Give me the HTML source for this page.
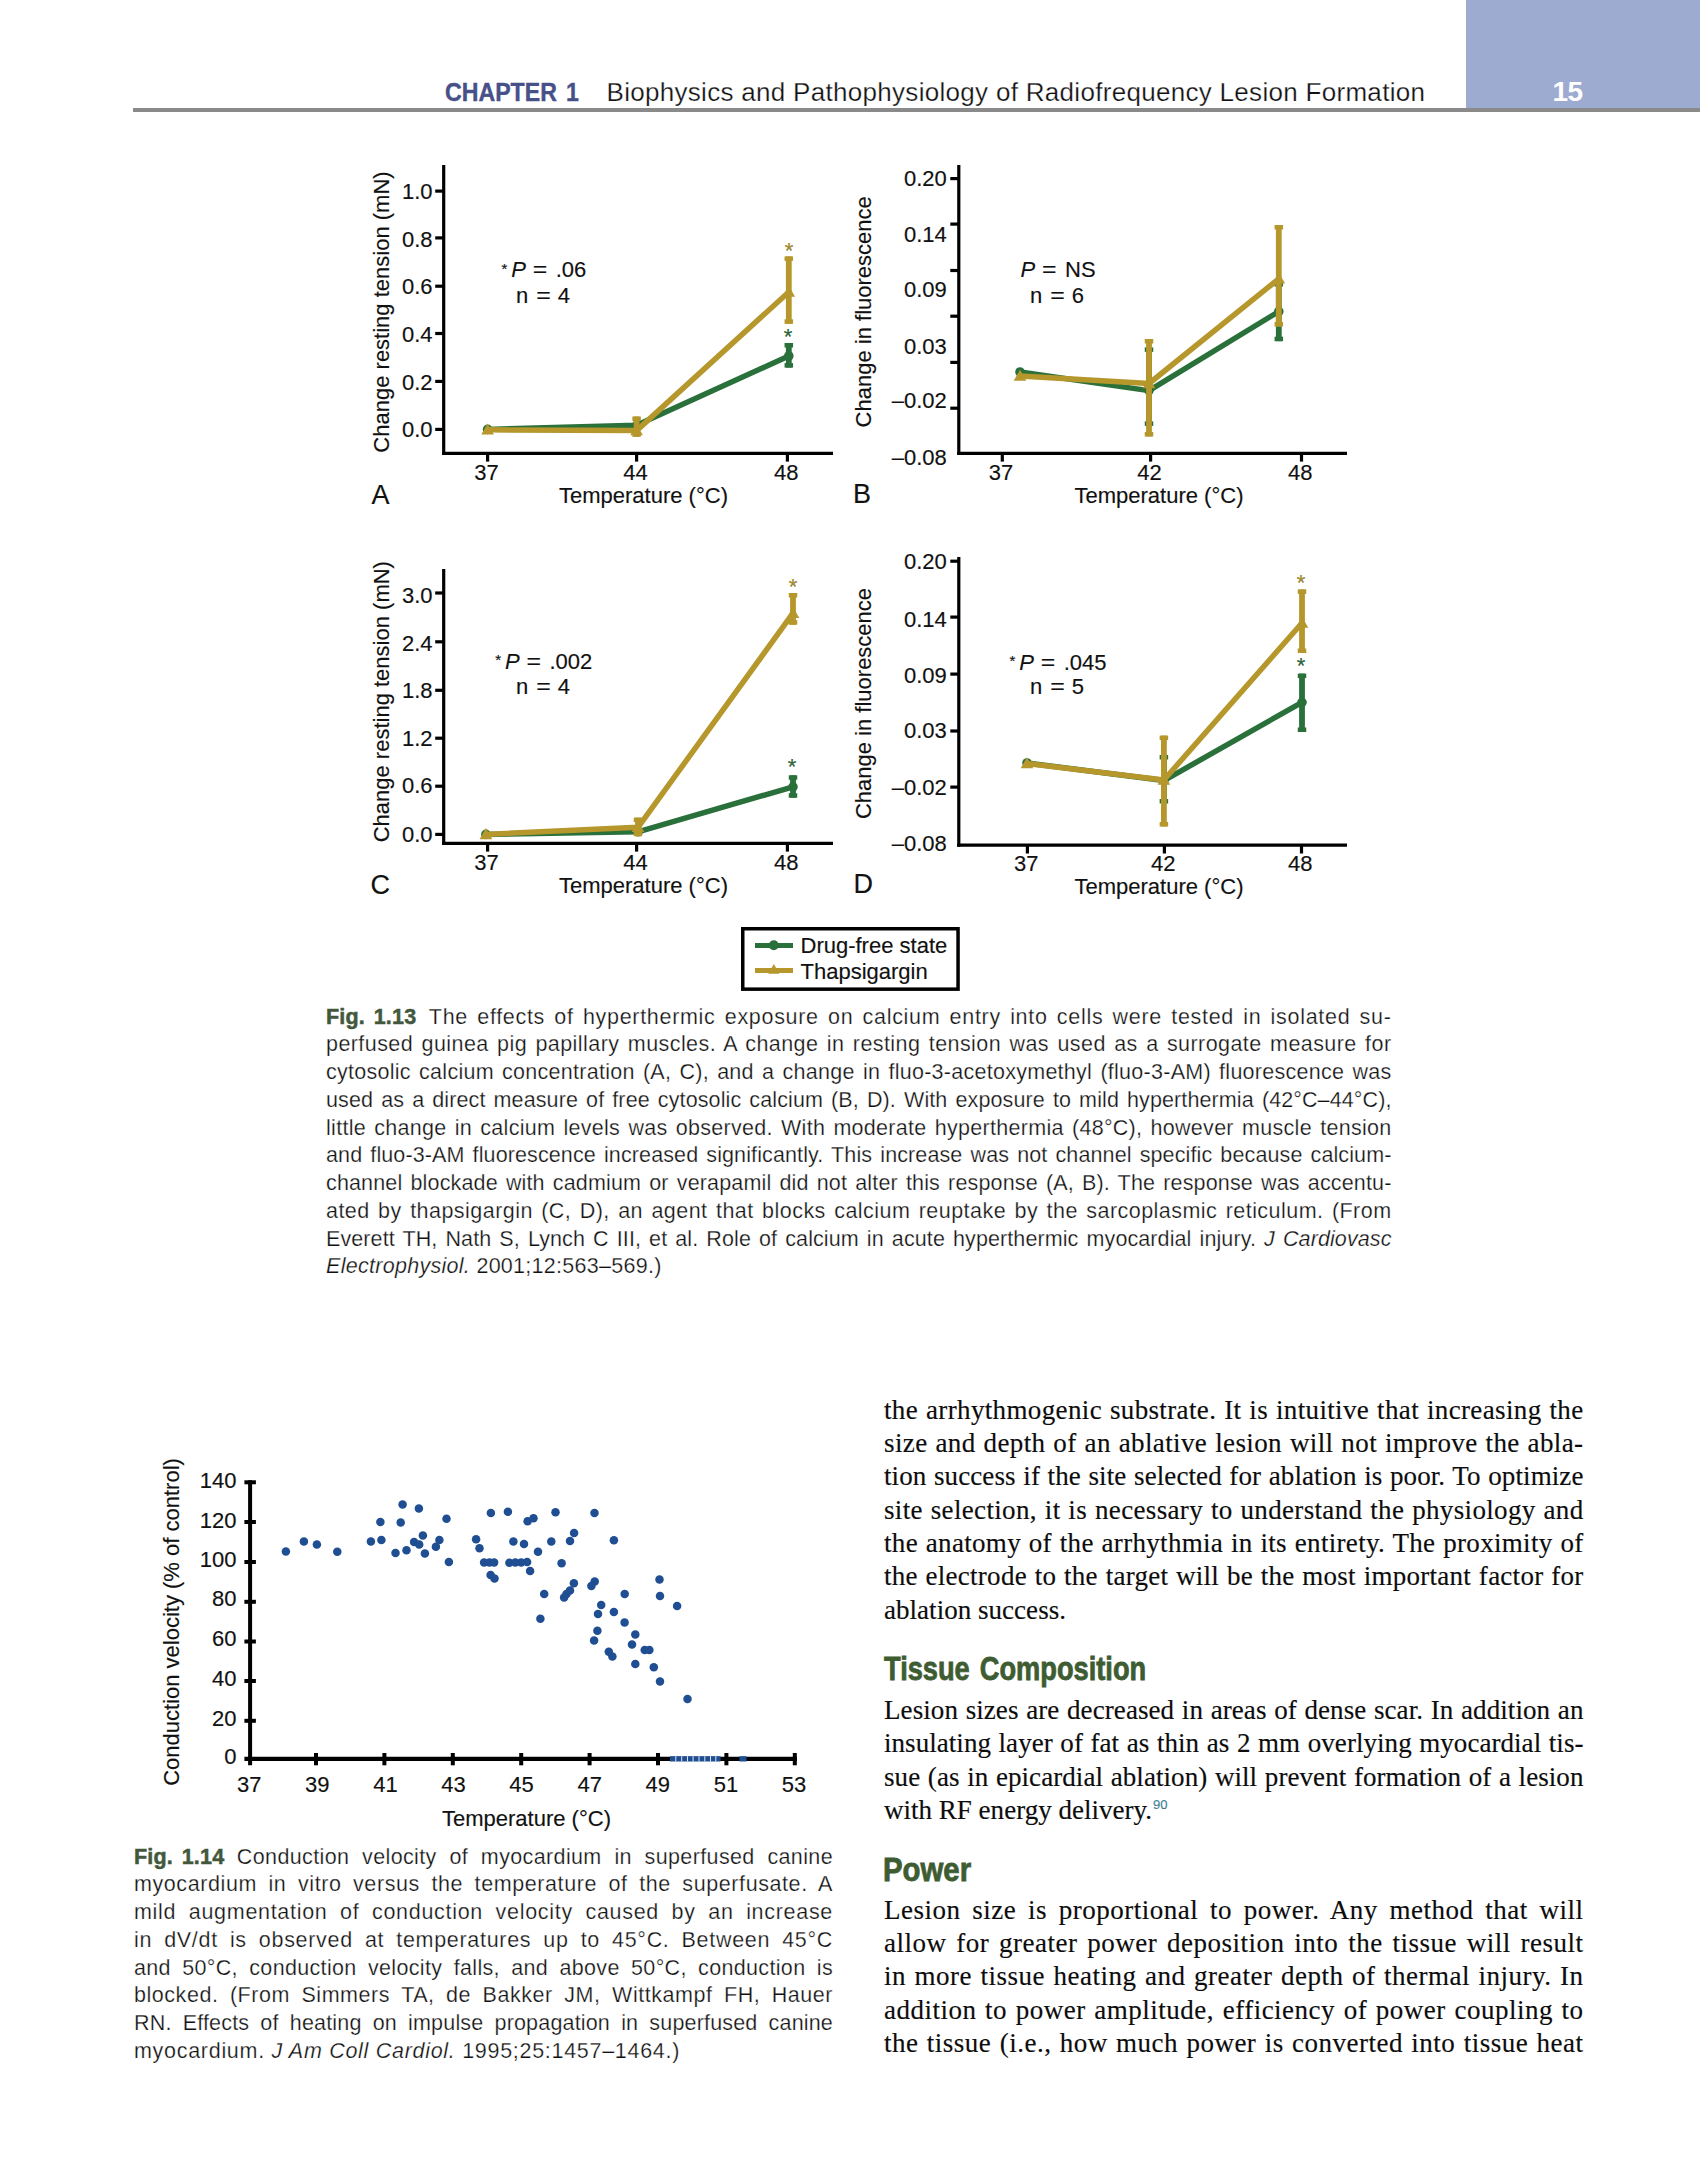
<!DOCTYPE html>
<html lang="en"><head><meta charset="utf-8"><title>Chapter 1 - Biophysics and Pathophysiology of Radiofrequency Lesion Formation</title>
<style>
*{margin:0;padding:0;box-sizing:border-box}
html,body{width:1700px;height:2175px;background:#fff;overflow:hidden}
body{position:relative;font-family:"Liberation Sans",sans-serif;color:#111}
.l{position:absolute;white-space:nowrap;}
.j{text-align:justify;text-align-last:justify;white-space:normal}
.cap{font-family:"Liberation Sans",sans-serif;font-size:21.5px;line-height:28px;letter-spacing:.6px;color:#111;-webkit-text-stroke:.25px #fff}
.cap b{color:#42583c;-webkit-text-stroke:.5px #42583c;display:inline-block;letter-spacing:.2px;word-spacing:2.5px}
.g{display:inline-block;width:12.5px}
.body{font-family:"Liberation Serif",serif;font-size:27px;line-height:34px;letter-spacing:.3px;color:#0c0c0c;-webkit-text-stroke:.15px #0c0c0c}
.h{font-family:"Liberation Sans",sans-serif;font-weight:bold;font-size:33px;line-height:40px;color:#3e5c32;-webkit-text-stroke:.8px #3e5c32;word-spacing:3px;transform-origin:0 0;transform:scaleX(.815)}
svg{position:absolute;left:0;top:0}
svg text{font-family:"Liberation Sans",sans-serif;font-size:22px;letter-spacing:0;fill:#111;stroke:#111;stroke-width:.15px}
sup.r{font-family:"Liberation Sans",sans-serif;font-size:13px;color:#4a9bb5;letter-spacing:0;vertical-align:baseline;position:relative;top:-10px;margin-left:1px}
</style></head>
<body>
<div style="position:absolute;left:1466px;top:0;width:234px;height:109px;background:#9eabd0"></div>
<div style="position:absolute;left:133px;top:108px;width:1567px;height:4px;background:#8a8a8a"></div>
<div class="l" style="left:445px;top:77.00px;font-size:26px;line-height:30px;font-weight:bold;color:#475089;-webkit-text-stroke:.4px #475089;word-spacing:3px;transform-origin:0 0;transform:scaleX(.89)">CHAPTER 1</div>
<div class="l" style="left:606.5px;top:77.00px;font-size:26px;line-height:30px;letter-spacing:.3px;color:#111;-webkit-text-stroke:.25px #fff">Biophysics and Pathophysiology of Radiofrequency Lesion Formation</div>
<div class="l" style="left:1552.5px;top:76.50px;font-size:28px;line-height:30px;font-weight:bold;color:#fff;letter-spacing:-.5px">15</div>
<div class="l j cap" style="left:326px;top:1003.00px;width:1065.5px;height:28px;letter-spacing:0.696px"><b>Fig. 1.13</b><span class="g"></span>The effects of hyperthermic exposure on calcium entry into cells were tested in isolated su-</div>
<div class="l j cap" style="left:326px;top:1030.00px;width:1065.5px;height:28px;letter-spacing:0.431px">perfused guinea pig papillary muscles. A change in resting tension was used as a surrogate measure for</div>
<div class="l j cap" style="left:326px;top:1058.00px;width:1065.5px;height:28px;letter-spacing:0.268px">cytosolic calcium concentration (A, C), and a change in fluo-3-acetoxymethyl (fluo-3-AM) fluorescence was</div>
<div class="l j cap" style="left:326px;top:1086.00px;width:1065.5px;height:28px;letter-spacing:0.107px">used as a direct measure of free cytosolic calcium (B, D). With exposure to mild hyperthermia (42°C–44°C),</div>
<div class="l j cap" style="left:326px;top:1114.00px;width:1065.5px;height:28px;letter-spacing:0.286px">little change in calcium levels was observed. With moderate hyperthermia (48°C), however muscle tension</div>
<div class="l j cap" style="left:326px;top:1141.00px;width:1065.5px;height:28px;letter-spacing:0.114px">and fluo-3-AM fluorescence increased significantly. This increase was not channel specific because calcium-</div>
<div class="l j cap" style="left:326px;top:1169.00px;width:1065.5px;height:28px;letter-spacing:0.151px">channel blockade with cadmium or verapamil did not alter this response (A, B). The response was accentu-</div>
<div class="l j cap" style="left:326px;top:1197.00px;width:1065.5px;height:28px;letter-spacing:0.459px">ated by thapsigargin (C, D), an agent that blocks calcium reuptake by the sarcoplasmic reticulum. (From</div>
<div class="l j cap" style="left:326px;top:1225.00px;width:1065.5px;height:28px;letter-spacing:0.098px">Everett TH, Nath S, Lynch C III, et al. Role of calcium in acute hyperthermic myocardial injury. <i>J Cardiovasc</i></div>
<div class="l cap" style="left:326px;top:1252.00px;letter-spacing:0.287px"><i>Electrophysiol.</i> 2001;12:563–569.)</div>
<div class="l j cap" style="left:134px;top:1843.00px;width:699px;height:28px;letter-spacing:0.371px"><b>Fig. 1.14</b><span class="g"></span>Conduction velocity of myocardium in superfused canine</div>
<div class="l j cap" style="left:134px;top:1870.00px;width:699px;height:28px;letter-spacing:0.584px">myocardium in vitro versus the temperature of the superfusate. A</div>
<div class="l j cap" style="left:134px;top:1898.00px;width:699px;height:28px;letter-spacing:0.700px">mild augmentation of conduction velocity caused by an increase</div>
<div class="l j cap" style="left:134px;top:1926.00px;width:699px;height:28px;letter-spacing:0.700px">in dV/dt is observed at temperatures up to 45°C. Between 45°C</div>
<div class="l j cap" style="left:134px;top:1954.00px;width:699px;height:28px;letter-spacing:0.340px">and 50°C, conduction velocity falls, and above 50°C, conduction is</div>
<div class="l j cap" style="left:134px;top:1981.00px;width:699px;height:28px;letter-spacing:0.539px">blocked. (From Simmers TA, de Bakker JM, Wittkampf FH, Hauer</div>
<div class="l j cap" style="left:134px;top:2009.00px;width:699px;height:28px;letter-spacing:0.172px">RN. Effects of heating on impulse propagation in superfused canine</div>
<div class="l cap" style="left:134px;top:2037.00px;letter-spacing:0.706px">myocardium. <i>J Am Coll Cardiol.</i> 1995;25:1457–1464.)</div>
<div class="l j body" style="left:884px;top:1393.00px;width:699.5px;height:34px;letter-spacing:0.362px">the arrhythmogenic substrate. It is intuitive that increasing the</div>
<div class="l j body" style="left:884px;top:1426.00px;width:699.5px;height:34px;letter-spacing:0.383px">size and depth of an ablative lesion will not improve the abla-</div>
<div class="l j body" style="left:884px;top:1459.00px;width:699.5px;height:34px;letter-spacing:0.093px">tion success if the site selected for ablation is poor. To optimize</div>
<div class="l j body" style="left:884px;top:1493.00px;width:699.5px;height:34px;letter-spacing:0.343px">site selection, it is necessary to understand the physiology and</div>
<div class="l j body" style="left:884px;top:1526.00px;width:699.5px;height:34px;letter-spacing:0.312px">the anatomy of the arrhythmia in its entirety. The proximity of</div>
<div class="l j body" style="left:884px;top:1559.00px;width:699.5px;height:34px;letter-spacing:0.264px">the electrode to the target will be the most important factor for</div>
<div class="l body" style="left:884px;top:1593.00px;letter-spacing:0.032px">ablation success.</div>
<div class="l j body" style="left:884px;top:1693.00px;width:699.5px;height:34px;letter-spacing:0.084px">Lesion sizes are decreased in areas of dense scar. In addition an</div>
<div class="l j body" style="left:884px;top:1726.00px;width:699.5px;height:34px;letter-spacing:0.048px">insulating layer of fat as thin as 2 mm overlying myocardial tis-</div>
<div class="l j body" style="left:884px;top:1760.00px;width:699.5px;height:34px;letter-spacing:0.071px">sue (as in epicardial ablation) will prevent formation of a lesion</div>
<div class="l body" style="left:884px;top:1793.00px;letter-spacing:0.012px">with RF energy delivery.<sup class="r">90</sup></div>
<div class="l j body" style="left:884px;top:1893.00px;width:699.5px;height:34px;letter-spacing:0.500px">Lesion size is proportional to power. Any method that will</div>
<div class="l j body" style="left:884px;top:1926.00px;width:699.5px;height:34px;letter-spacing:0.500px">allow for greater power deposition into the tissue will result</div>
<div class="l j body" style="left:884px;top:1959.00px;width:699.5px;height:34px;letter-spacing:0.500px">in more tissue heating and greater depth of thermal injury. In</div>
<div class="l j body" style="left:884px;top:1993.00px;width:699.5px;height:34px;letter-spacing:0.500px">addition to power amplitude, efficiency of power coupling to</div>
<div class="l j body" style="left:884px;top:2026.00px;width:699.5px;height:34px;letter-spacing:0.500px">the tissue (i.e., how much power is converted into tissue heat</div>
<div class="l h" style="left:884px;top:1648.50px;transform:scaleX(0.825)">Tissue Composition</div>
<div class="l h" style="left:883.0px;top:1849.50px;transform:scaleX(0.89)">Power</div>
<svg width="1700" height="2175" viewBox="0 0 1700 2175">
<line x1="443.7" y1="165" x2="443.7" y2="454.90000000000003" stroke="#000" stroke-width="3.2" stroke-linecap="butt"/>
<line x1="442.09999999999997" y1="453.3" x2="833" y2="453.3" stroke="#000" stroke-width="3.2" stroke-linecap="butt"/>
<line x1="435.2" y1="191.1" x2="443.7" y2="191.1" stroke="#000" stroke-width="3.2" stroke-linecap="butt"/>
<line x1="435.2" y1="237.9" x2="443.7" y2="237.9" stroke="#000" stroke-width="3.2" stroke-linecap="butt"/>
<line x1="435.2" y1="286.2" x2="443.7" y2="286.2" stroke="#000" stroke-width="3.2" stroke-linecap="butt"/>
<line x1="435.2" y1="333.5" x2="443.7" y2="333.5" stroke="#000" stroke-width="3.2" stroke-linecap="butt"/>
<line x1="435.2" y1="381.4" x2="443.7" y2="381.4" stroke="#000" stroke-width="3.2" stroke-linecap="butt"/>
<line x1="435.2" y1="429.4" x2="443.7" y2="429.4" stroke="#000" stroke-width="3.2" stroke-linecap="butt"/>
<text x="432.5" y="198.5" text-anchor="end">1.0</text>
<text x="432.5" y="246.7" text-anchor="end">0.8</text>
<text x="432.5" y="293.8" text-anchor="end">0.6</text>
<text x="432.5" y="342" text-anchor="end">0.4</text>
<text x="432.5" y="389.7" text-anchor="end">0.2</text>
<text x="432.5" y="436.8" text-anchor="end">0.0</text>
<line x1="487.6" y1="453.3" x2="487.6" y2="461.6" stroke="#000" stroke-width="3.2" stroke-linecap="butt"/>
<line x1="636.6" y1="453.3" x2="636.6" y2="461.6" stroke="#000" stroke-width="3.2" stroke-linecap="butt"/>
<line x1="787.4" y1="453.3" x2="787.4" y2="461.6" stroke="#000" stroke-width="3.2" stroke-linecap="butt"/>
<text x="486.40000000000003" y="479.7" text-anchor="middle">37</text>
<text x="635.4" y="479.7" text-anchor="middle">44</text>
<text x="786.1999999999999" y="479.7" text-anchor="middle">48</text>
<text x="371.5" y="503.5" text-anchor="start" style="font-size:27px;letter-spacing:0">A</text>
<text x="559" y="502.6" text-anchor="start">Temperature (°C)</text>
<text transform="translate(389.2,312) rotate(-90)" text-anchor="middle">Change resting tension (mN)</text>
<text x="501.5" y="273.9" style="font-size:15px">*</text>
<text x="511.2" y="277.4" font-style="italic">P</text>
<text x="532.7" y="277.4" textLength="14.5" lengthAdjust="spacingAndGlyphs">=</text>
<text x="555.7" y="277.4">.06</text>
<text x="516" y="302.6">n</text>
<text x="536.3" y="302.6" textLength="14.5" lengthAdjust="spacingAndGlyphs">=</text>
<text x="557.7" y="302.6">4</text>
<rect x="785.9" y="343" width="5.8" height="24.600000000000023" fill="#2a703a"/>
<rect x="784.55" y="343" width="8.5" height="4.5" fill="#2a703a"/>
<rect x="784.55" y="363.1" width="8.5" height="4.5" fill="#2a703a"/>
<polyline points="487.6,429.4 636.6,425.3 788.8,356" fill="none" stroke="#2a703a" stroke-width="5.5" stroke-linejoin="round" stroke-linecap="round"/>
<circle cx="487.6" cy="429.4" r="4.8" fill="#2a703a"/>
<circle cx="636.6" cy="425.3" r="4.8" fill="#2a703a"/>
<circle cx="788.8" cy="356" r="4.8" fill="#2a703a"/>
<rect x="633.7" y="416.5" width="5.8" height="20.30000000000001" fill="#b5972c"/>
<rect x="632.35" y="416.5" width="8.5" height="4.5" fill="#b5972c"/>
<rect x="632.35" y="432.3" width="8.5" height="4.5" fill="#b5972c"/>
<rect x="785.9" y="256.4" width="5.8" height="67.40000000000003" fill="#b5972c"/>
<rect x="784.55" y="256.4" width="8.5" height="4.5" fill="#b5972c"/>
<rect x="784.55" y="319.3" width="8.5" height="4.5" fill="#b5972c"/>
<polyline points="487.6,429.8 636.6,430.6 788.8,292" fill="none" stroke="#b5972c" stroke-width="5.5" stroke-linejoin="round" stroke-linecap="round"/>
<polygon points="487.6,423.5 493.90000000000003,434.52500000000003 481.3,434.52500000000003" fill="#b5972c"/>
<polygon points="636.6,424.3 642.9,435.32500000000005 630.3000000000001,435.32500000000005" fill="#b5972c"/>
<polygon points="788.8,285.7 795.0999999999999,296.725 782.5,296.725" fill="#b5972c"/>
<text x="789" y="258" text-anchor="middle" style="font-size:22px;letter-spacing:0;fill:#b5972c">*</text>
<text x="788" y="343.5" text-anchor="middle" style="font-size:22px;letter-spacing:0;fill:#2a703a">*</text>
<line x1="443.7" y1="569" x2="443.7" y2="844.9" stroke="#000" stroke-width="3.2" stroke-linecap="butt"/>
<line x1="442.09999999999997" y1="843.3" x2="833" y2="843.3" stroke="#000" stroke-width="3.2" stroke-linecap="butt"/>
<line x1="435.2" y1="593" x2="443.7" y2="593" stroke="#000" stroke-width="3.2" stroke-linecap="butt"/>
<line x1="435.2" y1="641.8" x2="443.7" y2="641.8" stroke="#000" stroke-width="3.2" stroke-linecap="butt"/>
<line x1="435.2" y1="690.3" x2="443.7" y2="690.3" stroke="#000" stroke-width="3.2" stroke-linecap="butt"/>
<line x1="435.2" y1="738.2" x2="443.7" y2="738.2" stroke="#000" stroke-width="3.2" stroke-linecap="butt"/>
<line x1="435.2" y1="786.2" x2="443.7" y2="786.2" stroke="#000" stroke-width="3.2" stroke-linecap="butt"/>
<line x1="435.2" y1="834.4" x2="443.7" y2="834.4" stroke="#000" stroke-width="3.2" stroke-linecap="butt"/>
<text x="432.5" y="602.6" text-anchor="end">3.0</text>
<text x="432.5" y="650.8" text-anchor="end">2.4</text>
<text x="432.5" y="697.6" text-anchor="end">1.8</text>
<text x="432.5" y="745.8" text-anchor="end">1.2</text>
<text x="432.5" y="793.3" text-anchor="end">0.6</text>
<text x="432.5" y="842" text-anchor="end">0.0</text>
<line x1="487.6" y1="843.3" x2="487.6" y2="851.5999999999999" stroke="#000" stroke-width="3.2" stroke-linecap="butt"/>
<line x1="636.6" y1="843.3" x2="636.6" y2="851.5999999999999" stroke="#000" stroke-width="3.2" stroke-linecap="butt"/>
<line x1="787.4" y1="843.3" x2="787.4" y2="851.5999999999999" stroke="#000" stroke-width="3.2" stroke-linecap="butt"/>
<text x="486.40000000000003" y="869.7" text-anchor="middle">37</text>
<text x="635.4" y="869.7" text-anchor="middle">44</text>
<text x="786.1999999999999" y="869.7" text-anchor="middle">48</text>
<text x="370.5" y="893.5" text-anchor="start" style="font-size:27px;letter-spacing:0">C</text>
<text x="559" y="892.6" text-anchor="start">Temperature (°C)</text>
<text transform="translate(389.2,701.7) rotate(-90)" text-anchor="middle">Change resting tension (mN)</text>
<text x="495.3" y="665.3" style="font-size:15px">*</text>
<text x="505.0" y="668.8" font-style="italic">P</text>
<text x="526.5" y="668.8" textLength="14.5" lengthAdjust="spacingAndGlyphs">=</text>
<text x="549.5" y="668.8">.002</text>
<text x="516" y="693.5">n</text>
<text x="536.3" y="693.5" textLength="14.5" lengthAdjust="spacingAndGlyphs">=</text>
<text x="557.7" y="693.5">4</text>
<rect x="790.1" y="775.3" width="5.8" height="22.40000000000009" fill="#2a703a"/>
<rect x="788.75" y="775.3" width="8.5" height="4.5" fill="#2a703a"/>
<rect x="788.75" y="793.2" width="8.5" height="4.5" fill="#2a703a"/>
<polyline points="485.9,834.4 638,831.8 793,786.8" fill="none" stroke="#2a703a" stroke-width="5.5" stroke-linejoin="round" stroke-linecap="round"/>
<circle cx="485.9" cy="834.4" r="4.8" fill="#2a703a"/>
<circle cx="638" cy="831.8" r="4.8" fill="#2a703a"/>
<circle cx="793" cy="786.8" r="4.8" fill="#2a703a"/>
<rect x="635.1" y="817.6" width="5.8" height="18.600000000000023" fill="#b5972c"/>
<rect x="633.75" y="817.6" width="8.5" height="4.5" fill="#b5972c"/>
<rect x="633.75" y="831.7" width="8.5" height="4.5" fill="#b5972c"/>
<rect x="790.1" y="593" width="5.8" height="31.700000000000045" fill="#b5972c"/>
<rect x="788.75" y="593" width="8.5" height="4.5" fill="#b5972c"/>
<rect x="788.75" y="620.2" width="8.5" height="4.5" fill="#b5972c"/>
<polyline points="485.9,834.4 638,827.3 793,613.2" fill="none" stroke="#b5972c" stroke-width="5.5" stroke-linejoin="round" stroke-linecap="round"/>
<polygon points="485.9,828.1 492.2,839.125 479.59999999999997,839.125" fill="#b5972c"/>
<polygon points="638,821.0 644.3,832.025 631.7,832.025" fill="#b5972c"/>
<polygon points="793,606.9000000000001 799.3,617.9250000000001 786.7,617.9250000000001" fill="#b5972c"/>
<text x="793" y="593.8" text-anchor="middle" style="font-size:22px;letter-spacing:0;fill:#b5972c">*</text>
<text x="792" y="774.4" text-anchor="middle" style="font-size:22px;letter-spacing:0;fill:#2a703a">*</text>
<line x1="958.8" y1="165" x2="958.8" y2="454.90000000000003" stroke="#000" stroke-width="3.2" stroke-linecap="butt"/>
<line x1="957.1999999999999" y1="453.3" x2="1347" y2="453.3" stroke="#000" stroke-width="3.2" stroke-linecap="butt"/>
<line x1="950.3" y1="178.6" x2="958.8" y2="178.6" stroke="#000" stroke-width="3.2" stroke-linecap="butt"/>
<line x1="950.3" y1="224.1" x2="958.8" y2="224.1" stroke="#000" stroke-width="3.2" stroke-linecap="butt"/>
<line x1="950.3" y1="270.5" x2="958.8" y2="270.5" stroke="#000" stroke-width="3.2" stroke-linecap="butt"/>
<line x1="950.3" y1="316.2" x2="958.8" y2="316.2" stroke="#000" stroke-width="3.2" stroke-linecap="butt"/>
<line x1="950.3" y1="362.4" x2="958.8" y2="362.4" stroke="#000" stroke-width="3.2" stroke-linecap="butt"/>
<line x1="950.3" y1="408.2" x2="958.8" y2="408.2" stroke="#000" stroke-width="3.2" stroke-linecap="butt"/>
<text x="946.8" y="186.2" text-anchor="end">0.20</text>
<text x="946.8" y="241.8" text-anchor="end">0.14</text>
<text x="946.8" y="297.3" text-anchor="end">0.09</text>
<text x="946.8" y="353.5" text-anchor="end">0.03</text>
<text x="946.8" y="408.2" text-anchor="end">–0.02</text>
<text x="946.8" y="464.7" text-anchor="end">–0.08</text>
<line x1="1002.3" y1="453.3" x2="1002.3" y2="461.6" stroke="#000" stroke-width="3.2" stroke-linecap="butt"/>
<line x1="1150.6" y1="453.3" x2="1150.6" y2="461.6" stroke="#000" stroke-width="3.2" stroke-linecap="butt"/>
<line x1="1301.5" y1="453.3" x2="1301.5" y2="461.6" stroke="#000" stroke-width="3.2" stroke-linecap="butt"/>
<text x="1001.0999999999999" y="479.7" text-anchor="middle">37</text>
<text x="1149.3999999999999" y="479.7" text-anchor="middle">42</text>
<text x="1300.3" y="479.7" text-anchor="middle">48</text>
<text x="853" y="502.6" text-anchor="start" style="font-size:27px;letter-spacing:0">B</text>
<text x="1074.5" y="502.6" text-anchor="start">Temperature (°C)</text>
<text transform="translate(870.7,311.8) rotate(-90)" text-anchor="middle">Change in fluorescence</text>
<text x="1020.5" y="277.4" font-style="italic">P</text>
<text x="1042.0" y="277.4" textLength="14.5" lengthAdjust="spacingAndGlyphs">=</text>
<text x="1065.0" y="277.4">NS</text>
<text x="1030" y="302.6">n</text>
<text x="1050.3" y="302.6" textLength="14.5" lengthAdjust="spacingAndGlyphs">=</text>
<text x="1071.7" y="302.6">6</text>
<rect x="1146.1" y="347.4" width="5.8" height="78.5" fill="#2a703a"/>
<rect x="1144.75" y="347.4" width="8.5" height="4.5" fill="#2a703a"/>
<rect x="1144.75" y="421.4" width="8.5" height="4.5" fill="#2a703a"/>
<rect x="1275.8999999999999" y="282" width="5.8" height="59.19999999999999" fill="#2a703a"/>
<rect x="1274.55" y="282" width="8.5" height="4.5" fill="#2a703a"/>
<rect x="1274.55" y="336.7" width="8.5" height="4.5" fill="#2a703a"/>
<polyline points="1020,372 1149,390.6 1278.8,311.5" fill="none" stroke="#2a703a" stroke-width="5.5" stroke-linejoin="round" stroke-linecap="round"/>
<circle cx="1020" cy="372" r="4.8" fill="#2a703a"/>
<circle cx="1149" cy="390.6" r="4.8" fill="#2a703a"/>
<circle cx="1278.8" cy="311.5" r="4.8" fill="#2a703a"/>
<rect x="1146.1" y="339" width="5.8" height="97.5" fill="#b5972c"/>
<rect x="1144.75" y="339" width="8.5" height="4.5" fill="#b5972c"/>
<rect x="1144.75" y="432.0" width="8.5" height="4.5" fill="#b5972c"/>
<rect x="1275.8999999999999" y="225" width="5.8" height="101.5" fill="#b5972c"/>
<rect x="1274.55" y="225" width="8.5" height="4.5" fill="#b5972c"/>
<rect x="1274.55" y="322.0" width="8.5" height="4.5" fill="#b5972c"/>
<polyline points="1020,376 1149,383.5 1278.8,278.8" fill="none" stroke="#b5972c" stroke-width="5.5" stroke-linejoin="round" stroke-linecap="round"/>
<polygon points="1020,369.7 1026.3,380.725 1013.7,380.725" fill="#b5972c"/>
<polygon points="1149,377.2 1155.3,388.225 1142.7,388.225" fill="#b5972c"/>
<polygon points="1278.8,272.5 1285.1,283.52500000000003 1272.5,283.52500000000003" fill="#b5972c"/>
<line x1="958.8" y1="557" x2="958.8" y2="846.8000000000001" stroke="#000" stroke-width="3.2" stroke-linecap="butt"/>
<line x1="957.1999999999999" y1="845.2" x2="1347" y2="845.2" stroke="#000" stroke-width="3.2" stroke-linecap="butt"/>
<line x1="950.3" y1="561.2" x2="958.8" y2="561.2" stroke="#000" stroke-width="3.2" stroke-linecap="butt"/>
<line x1="950.3" y1="617.1" x2="958.8" y2="617.1" stroke="#000" stroke-width="3.2" stroke-linecap="butt"/>
<line x1="950.3" y1="674.1" x2="958.8" y2="674.1" stroke="#000" stroke-width="3.2" stroke-linecap="butt"/>
<line x1="950.3" y1="731" x2="958.8" y2="731" stroke="#000" stroke-width="3.2" stroke-linecap="butt"/>
<line x1="950.3" y1="787.1" x2="958.8" y2="787.1" stroke="#000" stroke-width="3.2" stroke-linecap="butt"/>
<text x="946.8" y="569.1" text-anchor="end">0.20</text>
<text x="946.8" y="626.5" text-anchor="end">0.14</text>
<text x="946.8" y="682.6" text-anchor="end">0.09</text>
<text x="946.8" y="738.2" text-anchor="end">0.03</text>
<text x="946.8" y="795.2" text-anchor="end">–0.02</text>
<text x="946.8" y="851.2" text-anchor="end">–0.08</text>
<line x1="1027.4" y1="845.2" x2="1027.4" y2="853.5" stroke="#000" stroke-width="3.2" stroke-linecap="butt"/>
<line x1="1164.4" y1="845.2" x2="1164.4" y2="853.5" stroke="#000" stroke-width="3.2" stroke-linecap="butt"/>
<line x1="1301.5" y1="845.2" x2="1301.5" y2="853.5" stroke="#000" stroke-width="3.2" stroke-linecap="butt"/>
<text x="1026.2" y="871.1" text-anchor="middle">37</text>
<text x="1163.2" y="871.1" text-anchor="middle">42</text>
<text x="1300.3" y="871.1" text-anchor="middle">48</text>
<text x="853.5" y="893" text-anchor="start" style="font-size:27px;letter-spacing:0">D</text>
<text x="1074.5" y="894.4" text-anchor="start">Temperature (°C)</text>
<text transform="translate(870.7,703.5) rotate(-90)" text-anchor="middle">Change in fluorescence</text>
<text x="1009.5" y="666.2" style="font-size:15px">*</text>
<text x="1019.2" y="669.7" font-style="italic">P</text>
<text x="1040.7" y="669.7" textLength="14.5" lengthAdjust="spacingAndGlyphs">=</text>
<text x="1063.7" y="669.7">.045</text>
<text x="1030" y="694.4">n</text>
<text x="1050.3" y="694.4" textLength="14.5" lengthAdjust="spacingAndGlyphs">=</text>
<text x="1071.7" y="694.4">5</text>
<rect x="1161.0" y="755" width="5.8" height="48.5" fill="#2a703a"/>
<rect x="1159.65" y="755" width="8.5" height="4.5" fill="#2a703a"/>
<rect x="1159.65" y="799.0" width="8.5" height="4.5" fill="#2a703a"/>
<rect x="1299.1" y="673.6" width="5.8" height="58.39999999999998" fill="#2a703a"/>
<rect x="1297.75" y="673.6" width="8.5" height="4.5" fill="#2a703a"/>
<rect x="1297.75" y="727.5" width="8.5" height="4.5" fill="#2a703a"/>
<polyline points="1027,763 1163.9,780.6 1302,702.3" fill="none" stroke="#2a703a" stroke-width="5.5" stroke-linejoin="round" stroke-linecap="round"/>
<circle cx="1027" cy="763" r="4.8" fill="#2a703a"/>
<circle cx="1163.9" cy="780.6" r="4.8" fill="#2a703a"/>
<circle cx="1302" cy="702.3" r="4.8" fill="#2a703a"/>
<rect x="1161.0" y="735.6" width="5.8" height="90.89999999999998" fill="#b5972c"/>
<rect x="1159.65" y="735.6" width="8.5" height="4.5" fill="#b5972c"/>
<rect x="1159.65" y="822.0" width="8.5" height="4.5" fill="#b5972c"/>
<rect x="1299.1" y="589.4" width="5.8" height="63.60000000000002" fill="#b5972c"/>
<rect x="1297.75" y="589.4" width="8.5" height="4.5" fill="#b5972c"/>
<rect x="1297.75" y="648.5" width="8.5" height="4.5" fill="#b5972c"/>
<polyline points="1027,763.5 1163.9,780 1302,623" fill="none" stroke="#b5972c" stroke-width="5.5" stroke-linejoin="round" stroke-linecap="round"/>
<polygon points="1027,757.2 1033.3,768.225 1020.7,768.225" fill="#b5972c"/>
<polygon points="1163.9,773.7 1170.2,784.725 1157.6000000000001,784.725" fill="#b5972c"/>
<polygon points="1302,616.7 1308.3,627.725 1295.7,627.725" fill="#b5972c"/>
<text x="1301" y="589.7" text-anchor="middle" style="font-size:22px;letter-spacing:0;fill:#b5972c">*</text>
<text x="1301" y="672.6" text-anchor="middle" style="font-size:22px;letter-spacing:0;fill:#2a703a">*</text>
<rect x="742.75" y="928.75" width="215.3" height="60.4" fill="#fff" stroke="#000" stroke-width="3.5"/>
<line x1="755" y1="945.5" x2="793" y2="945.5" stroke="#2a703a" stroke-width="5" stroke-linecap="butt"/>
<circle cx="773.8" cy="945.2" r="5" fill="#2a703a"/>
<line x1="755" y1="970.6" x2="793" y2="970.6" stroke="#b5972c" stroke-width="5" stroke-linecap="butt"/>
<polygon points="773.8,964.0 779.3,973.625 768.3,973.625" fill="#b5972c"/>
<text x="800.5" y="953.3" text-anchor="start">Drug-free state</text>
<text x="800.5" y="978.5" text-anchor="start">Thapsigargin</text>
<line x1="250.1" y1="1480.3" x2="250.1" y2="1765.3" stroke="#000" stroke-width="4" stroke-linecap="butt"/>
<line x1="244.4" y1="1758.9" x2="797" y2="1758.9" stroke="#000" stroke-width="4.2" stroke-linecap="butt"/>
<line x1="244.4" y1="1482.3" x2="255.9" y2="1482.3" stroke="#000" stroke-width="4" stroke-linecap="butt"/>
<line x1="244.4" y1="1522" x2="255.9" y2="1522" stroke="#000" stroke-width="4" stroke-linecap="butt"/>
<line x1="244.4" y1="1562" x2="255.9" y2="1562" stroke="#000" stroke-width="4" stroke-linecap="butt"/>
<line x1="244.4" y1="1601.8" x2="255.9" y2="1601.8" stroke="#000" stroke-width="4" stroke-linecap="butt"/>
<line x1="244.4" y1="1641.5" x2="255.9" y2="1641.5" stroke="#000" stroke-width="4" stroke-linecap="butt"/>
<line x1="244.4" y1="1681" x2="255.9" y2="1681" stroke="#000" stroke-width="4" stroke-linecap="butt"/>
<line x1="244.4" y1="1720.8" x2="255.9" y2="1720.8" stroke="#000" stroke-width="4" stroke-linecap="butt"/>
<line x1="316.0" y1="1753" x2="316.0" y2="1765.3" stroke="#000" stroke-width="4" stroke-linecap="butt"/>
<line x1="384.4" y1="1753" x2="384.4" y2="1765.3" stroke="#000" stroke-width="4" stroke-linecap="butt"/>
<line x1="452.8" y1="1753" x2="452.8" y2="1765.3" stroke="#000" stroke-width="4" stroke-linecap="butt"/>
<line x1="521.2" y1="1753" x2="521.2" y2="1765.3" stroke="#000" stroke-width="4" stroke-linecap="butt"/>
<line x1="589.6" y1="1753" x2="589.6" y2="1765.3" stroke="#000" stroke-width="4" stroke-linecap="butt"/>
<line x1="658.0" y1="1753" x2="658.0" y2="1765.3" stroke="#000" stroke-width="4" stroke-linecap="butt"/>
<line x1="726.4000000000001" y1="1753" x2="726.4000000000001" y2="1765.3" stroke="#000" stroke-width="4" stroke-linecap="butt"/>
<line x1="794.8000000000001" y1="1753" x2="794.8000000000001" y2="1765.3" stroke="#000" stroke-width="4" stroke-linecap="butt"/>
<text x="236.5" y="1487.6" text-anchor="end">140</text>
<text x="236.5" y="1527.6" text-anchor="end">120</text>
<text x="236.5" y="1566.5" text-anchor="end">100</text>
<text x="236.5" y="1606.2" text-anchor="end">80</text>
<text x="236.5" y="1645.9" text-anchor="end">60</text>
<text x="236.5" y="1685.5" text-anchor="end">40</text>
<text x="236.5" y="1725.6" text-anchor="end">20</text>
<text x="236.5" y="1764" text-anchor="end">0</text>
<text x="249.2" y="1791.6" text-anchor="middle">37</text>
<text x="317.29999999999995" y="1791.6" text-anchor="middle">39</text>
<text x="385.4" y="1791.6" text-anchor="middle">41</text>
<text x="453.5" y="1791.6" text-anchor="middle">43</text>
<text x="521.5999999999999" y="1791.6" text-anchor="middle">45</text>
<text x="589.7" y="1791.6" text-anchor="middle">47</text>
<text x="657.8" y="1791.6" text-anchor="middle">49</text>
<text x="725.8999999999999" y="1791.6" text-anchor="middle">51</text>
<text x="794.0" y="1791.6" text-anchor="middle">53</text>
<text x="442" y="1825.6" text-anchor="start">Temperature (°C)</text>
<text transform="translate(179.1,1622) rotate(-90)" text-anchor="middle">Conduction velocity (% of control)</text>
<circle cx="285.9" cy="1551.5" r="4.25" fill="#1f4e92"/>
<circle cx="303.9" cy="1541.4" r="4.25" fill="#1f4e92"/>
<circle cx="316.9" cy="1544.5" r="4.25" fill="#1f4e92"/>
<circle cx="337.3" cy="1551.8" r="4.25" fill="#1f4e92"/>
<circle cx="370.9" cy="1541.4" r="4.25" fill="#1f4e92"/>
<circle cx="381.4" cy="1540" r="4.25" fill="#1f4e92"/>
<circle cx="380.4" cy="1521.9" r="4.25" fill="#1f4e92"/>
<circle cx="400.7" cy="1522.5" r="4.25" fill="#1f4e92"/>
<circle cx="402.6" cy="1504.4" r="4.25" fill="#1f4e92"/>
<circle cx="418.9" cy="1508.4" r="4.25" fill="#1f4e92"/>
<circle cx="446.5" cy="1518.7" r="4.25" fill="#1f4e92"/>
<circle cx="422.9" cy="1535.6" r="4.25" fill="#1f4e92"/>
<circle cx="414.1" cy="1542.1" r="4.25" fill="#1f4e92"/>
<circle cx="419.2" cy="1544.5" r="4.25" fill="#1f4e92"/>
<circle cx="439.4" cy="1540" r="4.25" fill="#1f4e92"/>
<circle cx="435.9" cy="1546.8" r="4.25" fill="#1f4e92"/>
<circle cx="406.5" cy="1550.2" r="4.25" fill="#1f4e92"/>
<circle cx="395.5" cy="1552.9" r="4.25" fill="#1f4e92"/>
<circle cx="424.9" cy="1553.4" r="4.25" fill="#1f4e92"/>
<circle cx="448.9" cy="1561.9" r="4.25" fill="#1f4e92"/>
<circle cx="490.9" cy="1512.9" r="4.25" fill="#1f4e92"/>
<circle cx="507.9" cy="1511.8" r="4.25" fill="#1f4e92"/>
<circle cx="527.6" cy="1521.2" r="4.25" fill="#1f4e92"/>
<circle cx="533.5" cy="1518.2" r="4.25" fill="#1f4e92"/>
<circle cx="555.5" cy="1512.2" r="4.25" fill="#1f4e92"/>
<circle cx="594.5" cy="1512.9" r="4.25" fill="#1f4e92"/>
<circle cx="476.1" cy="1539.2" r="4.25" fill="#1f4e92"/>
<circle cx="479.5" cy="1548.2" r="4.25" fill="#1f4e92"/>
<circle cx="513.4" cy="1541.6" r="4.25" fill="#1f4e92"/>
<circle cx="524" cy="1543.9" r="4.25" fill="#1f4e92"/>
<circle cx="551.3" cy="1541.6" r="4.25" fill="#1f4e92"/>
<circle cx="538" cy="1551.8" r="4.25" fill="#1f4e92"/>
<circle cx="574.1" cy="1532.9" r="4.25" fill="#1f4e92"/>
<circle cx="570" cy="1540.9" r="4.25" fill="#1f4e92"/>
<circle cx="613.9" cy="1540.2" r="4.25" fill="#1f4e92"/>
<circle cx="484.1" cy="1562.4" r="4.25" fill="#1f4e92"/>
<circle cx="489.4" cy="1562.4" r="4.25" fill="#1f4e92"/>
<circle cx="494.1" cy="1562.4" r="4.25" fill="#1f4e92"/>
<circle cx="509.4" cy="1562.7" r="4.25" fill="#1f4e92"/>
<circle cx="515.3" cy="1562.4" r="4.25" fill="#1f4e92"/>
<circle cx="521.2" cy="1562.4" r="4.25" fill="#1f4e92"/>
<circle cx="527.1" cy="1562" r="4.25" fill="#1f4e92"/>
<circle cx="561.6" cy="1563.3" r="4.25" fill="#1f4e92"/>
<circle cx="530.1" cy="1570.9" r="4.25" fill="#1f4e92"/>
<circle cx="490.6" cy="1575.1" r="4.25" fill="#1f4e92"/>
<circle cx="494.5" cy="1578.6" r="4.25" fill="#1f4e92"/>
<circle cx="573.9" cy="1583.3" r="4.25" fill="#1f4e92"/>
<circle cx="594.7" cy="1581.4" r="4.25" fill="#1f4e92"/>
<circle cx="591.4" cy="1585.9" r="4.25" fill="#1f4e92"/>
<circle cx="544.2" cy="1593.9" r="4.25" fill="#1f4e92"/>
<circle cx="570" cy="1590.6" r="4.25" fill="#1f4e92"/>
<circle cx="566.5" cy="1594.1" r="4.25" fill="#1f4e92"/>
<circle cx="564.1" cy="1597.6" r="4.25" fill="#1f4e92"/>
<circle cx="624.7" cy="1594.1" r="4.25" fill="#1f4e92"/>
<circle cx="659.5" cy="1579.4" r="4.25" fill="#1f4e92"/>
<circle cx="660" cy="1596" r="4.25" fill="#1f4e92"/>
<circle cx="601.2" cy="1604.9" r="4.25" fill="#1f4e92"/>
<circle cx="598" cy="1614.1" r="4.25" fill="#1f4e92"/>
<circle cx="613.9" cy="1612.1" r="4.25" fill="#1f4e92"/>
<circle cx="540.4" cy="1618.8" r="4.25" fill="#1f4e92"/>
<circle cx="677.1" cy="1605.9" r="4.25" fill="#1f4e92"/>
<circle cx="624.6" cy="1622.4" r="4.25" fill="#1f4e92"/>
<circle cx="597.4" cy="1630.8" r="4.25" fill="#1f4e92"/>
<circle cx="594.1" cy="1640.4" r="4.25" fill="#1f4e92"/>
<circle cx="635.3" cy="1634.4" r="4.25" fill="#1f4e92"/>
<circle cx="632" cy="1644.4" r="4.25" fill="#1f4e92"/>
<circle cx="644.7" cy="1650" r="4.25" fill="#1f4e92"/>
<circle cx="649.4" cy="1650" r="4.25" fill="#1f4e92"/>
<circle cx="608.8" cy="1651.8" r="4.25" fill="#1f4e92"/>
<circle cx="612.4" cy="1656.5" r="4.25" fill="#1f4e92"/>
<circle cx="635.3" cy="1664" r="4.25" fill="#1f4e92"/>
<circle cx="653.8" cy="1667.3" r="4.25" fill="#1f4e92"/>
<circle cx="660" cy="1681.4" r="4.25" fill="#1f4e92"/>
<circle cx="687.5" cy="1699.1" r="4.25" fill="#1f4e92"/>
<rect x="670" y="1756.2" width="50.6" height="5.3" fill="#1f4e92"/>
<rect x="675.3" y="1756.2" width="1" height="5.3" fill="#dfe6f0"/>
<rect x="681.2" y="1756.2" width="1" height="5.3" fill="#dfe6f0"/>
<rect x="687" y="1756.2" width="1" height="5.3" fill="#dfe6f0"/>
<rect x="692.6" y="1756.2" width="1" height="5.3" fill="#dfe6f0"/>
<rect x="698.5" y="1756.2" width="1" height="5.3" fill="#dfe6f0"/>
<rect x="704.3" y="1756.2" width="1" height="5.3" fill="#dfe6f0"/>
<rect x="710" y="1756.2" width="1" height="5.3" fill="#dfe6f0"/>
<rect x="715.3" y="1756.2" width="1" height="5.3" fill="#dfe6f0"/>
<rect x="739.4" y="1756.2" width="7.1" height="5.3" fill="#1f4e92"/>
</svg>
</body></html>
